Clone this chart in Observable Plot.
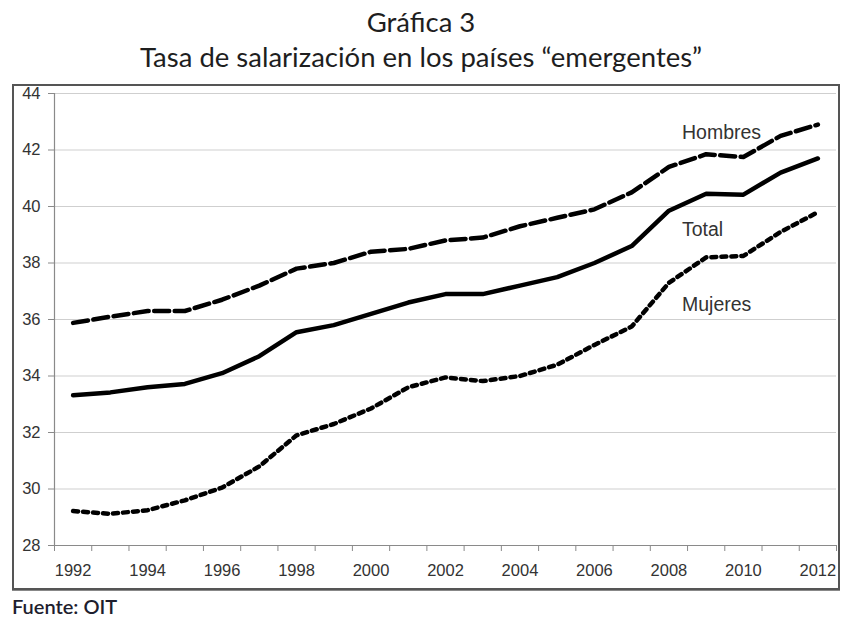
<!DOCTYPE html>
<html><head><meta charset="utf-8">
<script src="https://cdn.jsdelivr.net/npm/d3@7"></script>
<script src="https://cdn.jsdelivr.net/npm/@observablehq/plot@0.6"></script>
<style>
body{margin:0;background:#fff;width:842px;height:620px;position:relative;overflow:hidden}
.t{position:absolute;left:0;width:842px;text-align:center;font-family:Lato,"Open Sans",sans-serif;font-size:27.5px;color:#1e1e1e;line-height:1}
#t1{top:8px}
#t2{top:43px}
#frame{position:absolute;left:12px;top:84px;width:824px;height:502px;border:2px solid #555;box-shadow:0 1px 0 #888;background:#fff}
#src{position:absolute;left:12px;top:594px;font-family:Lato,"Open Sans",sans-serif;font-size:20px;color:#1e1e2e;font-weight:600}
</style></head>
<body>
<div class="t" id="t1">Gráfica 3</div>
<div class="t" id="t2">Tasa de salarización en los países “emergentes”</div>
<div id="frame"></div>
<div id="src">Fuente: OIT</div>
<script>
const years   = [1992,1993,1994,1995,1996,1997,1998,1999,2000,2001,2002,2003,2004,2005,2006,2007,2008,2009,2010,2011,2012];
const hombres = [35.88,36.1,36.3,36.3,36.7,37.2,37.8,38.0,38.4,38.5,38.8,38.9,39.3,39.6,39.9,40.5,41.4,41.85,41.75,42.5,42.9];
const total   = [33.32,33.42,33.6,33.72,34.1,34.7,35.55,35.8,36.2,36.6,36.9,36.9,37.2,37.5,38.0,38.6,39.85,40.45,40.42,41.2,41.7];
const mujeres = [29.22,29.12,29.25,29.6,30.05,30.8,31.9,32.3,32.85,33.6,33.95,33.82,34.0,34.4,35.1,35.75,37.3,38.2,38.25,39.1,39.8];
const yTicks  = [28,30,32,34,36,38,40,42,44];
const xLabels = [1992,1994,1996,1998,2000,2002,2004,2006,2008,2010,2012];
const labelNames = ["Hombres","Total","Mujeres"];
const labelX = [2008.35,2008.35,2008.35];
const labelY = [42.62,39.19,36.53];

const toRows = vals => years.map((year, i) => ({year, value: vals[i]}));
const boundaries = years.map(y => y - 0.5).concat([years[years.length - 1] + 0.5]);
const labels = labelNames.map((text, i) => ({text, x: labelX[i], y: labelY[i]}));

const lineOpts = {x: "year", y: "value", stroke: "#000", strokeWidth: 4.5, strokeLinejoin: "round"};

const chart = Plot.plot({
  width: 822, height: 500,
  marginLeft: 40, marginRight: 0, marginTop: 7, marginBottom: 41,
  x: {domain: [boundaries[0], boundaries[boundaries.length - 1]]},
  y: {domain: [28, 44]},
  style: {fontFamily: "'Liberation Sans', Arial, sans-serif", fontSize: "16.5px", color: "#333", background: "transparent", overflow: "visible"},
  marks: [
    Plot.gridY(yTicks, {stroke: "#cfcfcf", strokeOpacity: 1, strokeWidth: 1}),
    Plot.ruleX([boundaries[0]], {stroke: "#8a8a8a", strokeWidth: 1.2}),
    Plot.ruleY([28], {stroke: "#8a8a8a", strokeWidth: 1.2}),
    Plot.axisY(yTicks, {tickSize: 6, tickPadding: 8, stroke: "#8a8a8a", tickFormat: d => String(d), label: null}),
    Plot.axisX(boundaries, {tickSize: 6, tickFormat: () => "", stroke: "#8a8a8a", label: null}),
    Plot.axisX(xLabels, {tickSize: 0, tickPadding: 19, tickFormat: d => String(d), label: null}),
    Plot.line(toRows(hombres), {...lineOpts, strokeDasharray: "15,5.5"}),
    Plot.line(toRows(total), lineOpts),
    Plot.line(toRows(mujeres), {...lineOpts, strokeDasharray: "5,5"}),
    Plot.text(labels, {x: "x", y: "y", text: "text", textAnchor: "start", fontSize: 19.5, fill: "#333"})
  ]
});
chart.style.position = "absolute";
chart.style.left = "14px";
chart.style.top = "86px";
document.body.appendChild(chart);
</script>
</body></html>
